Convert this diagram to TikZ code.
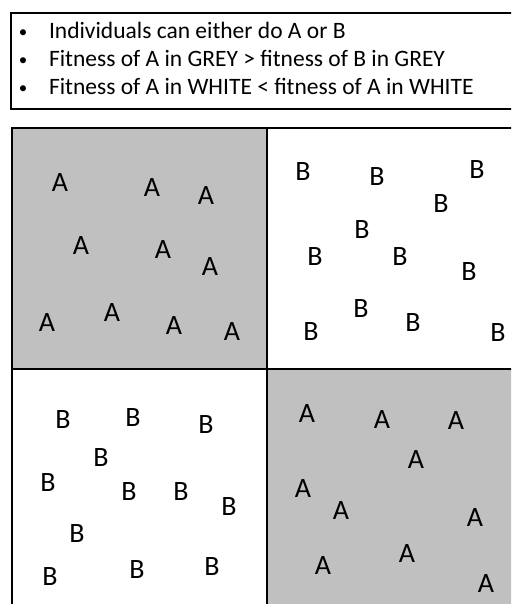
\documentclass[tikz,border=0pt]{standalone}
\usepackage{fontspec}
\setmainfont{Carlito}
\definecolor{cellgrey}{HTML}{C0C0C0}
\begin{document}
\begin{tikzpicture}[x=1pt,y=-1pt,
  letter/.style={inner sep=0pt,outer sep=0pt,font=\fontsize{28}{28}\selectfont,anchor=center},
  bullettext/.style={inner sep=0pt,outer sep=0pt,font=\fontsize{23.5}{28}\selectfont,anchor=base west},
  bulletdot/.style={inner sep=0pt,outer sep=0pt,font=\fontsize{17}{17}\selectfont,anchor=base},
  frame/.style={line width=2.8pt,draw=black}]
\useasboundingbox (0,0) rectangle (511,604);
\clip (0,0) rectangle (511,604);
% text box
\draw[frame] (11,13) rectangle (530,109);
\node[bulletdot] (d1) at (23,38) {•};
\node[bulletdot] (d2) at (23,66) {•};
\node[bulletdot] (d3) at (23,94) {•};
\node[bullettext] (t1) at (49,39) {Individuals can either do A or B};
\node[bullettext] (t2) at (49,67) {Fitness of A in GREY > fitness of B in GREY};
\node[bullettext] (t3) at (49,95) {Fitness of A in WHITE < fitness of A in WHITE};
% grid
\fill[cellgrey] (12,128) rectangle (267,369);
\fill[cellgrey] (267,369) rectangle (530,620);
\draw[frame] (12,620) -- (12,128) -- (530,128);
\draw[frame] (267,128) -- (267,620);
\draw[frame] (12,369) -- (530,369);
% top-left A
\node[letter] (a1) at (60,183) {A};
\node[letter] (a2) at (152,188) {A};
\node[letter] (a3) at (206,196) {A};
\node[letter] (a4) at (81,246) {A};
\node[letter] (a5) at (163,250) {A};
\node[letter] (a6) at (210,267) {A};
\node[letter] (a7) at (47,323) {A};
\node[letter] (a8) at (112,313) {A};
\node[letter] (a9) at (174,326) {A};
\node[letter] (a10) at (232,332) {A};
% top-right B
\node[letter] (b1) at (303,172) {B};
\node[letter] (b2) at (377,177) {B};
\node[letter] (b3) at (477,170) {B};
\node[letter] (b4) at (441,204) {B};
\node[letter] (b5) at (362,230) {B};
\node[letter] (b6) at (315,257) {B};
\node[letter] (b7) at (400,257) {B};
\node[letter] (b8) at (469,272) {B};
\node[letter] (b9) at (361,309) {B};
\node[letter] (b10) at (413,323) {B};
\node[letter] (b11) at (311,332) {B};
\node[letter] (b12) at (498,333) {B};
% bottom-left B
\node[letter] (c1) at (63,420) {B};
\node[letter] (c2) at (133,418) {B};
\node[letter] (c3) at (206,425) {B};
\node[letter] (c4) at (101,458) {B};
\node[letter] (c5) at (48,483) {B};
\node[letter] (c6) at (129,492) {B};
\node[letter] (c7) at (181,492) {B};
\node[letter] (c8) at (229,507) {B};
\node[letter] (c9) at (77,534) {B};
\node[letter] (c10) at (50,577) {B};
\node[letter] (c11) at (137,570) {B};
\node[letter] (c12) at (212,567) {B};
% bottom-right A
\node[letter] (e1) at (307,414) {A};
\node[letter] (e2) at (382,420) {A};
\node[letter] (e3) at (456,421) {A};
\node[letter] (e4) at (416,460) {A};
\node[letter] (e5) at (303,489) {A};
\node[letter] (e6) at (341,511) {A};
\node[letter] (e7) at (475,518) {A};
\node[letter] (e8) at (407,554) {A};
\node[letter] (e9) at (323,566) {A};
\node[letter] (e10) at (486,584) {A};
\end{tikzpicture}
\end{document}
